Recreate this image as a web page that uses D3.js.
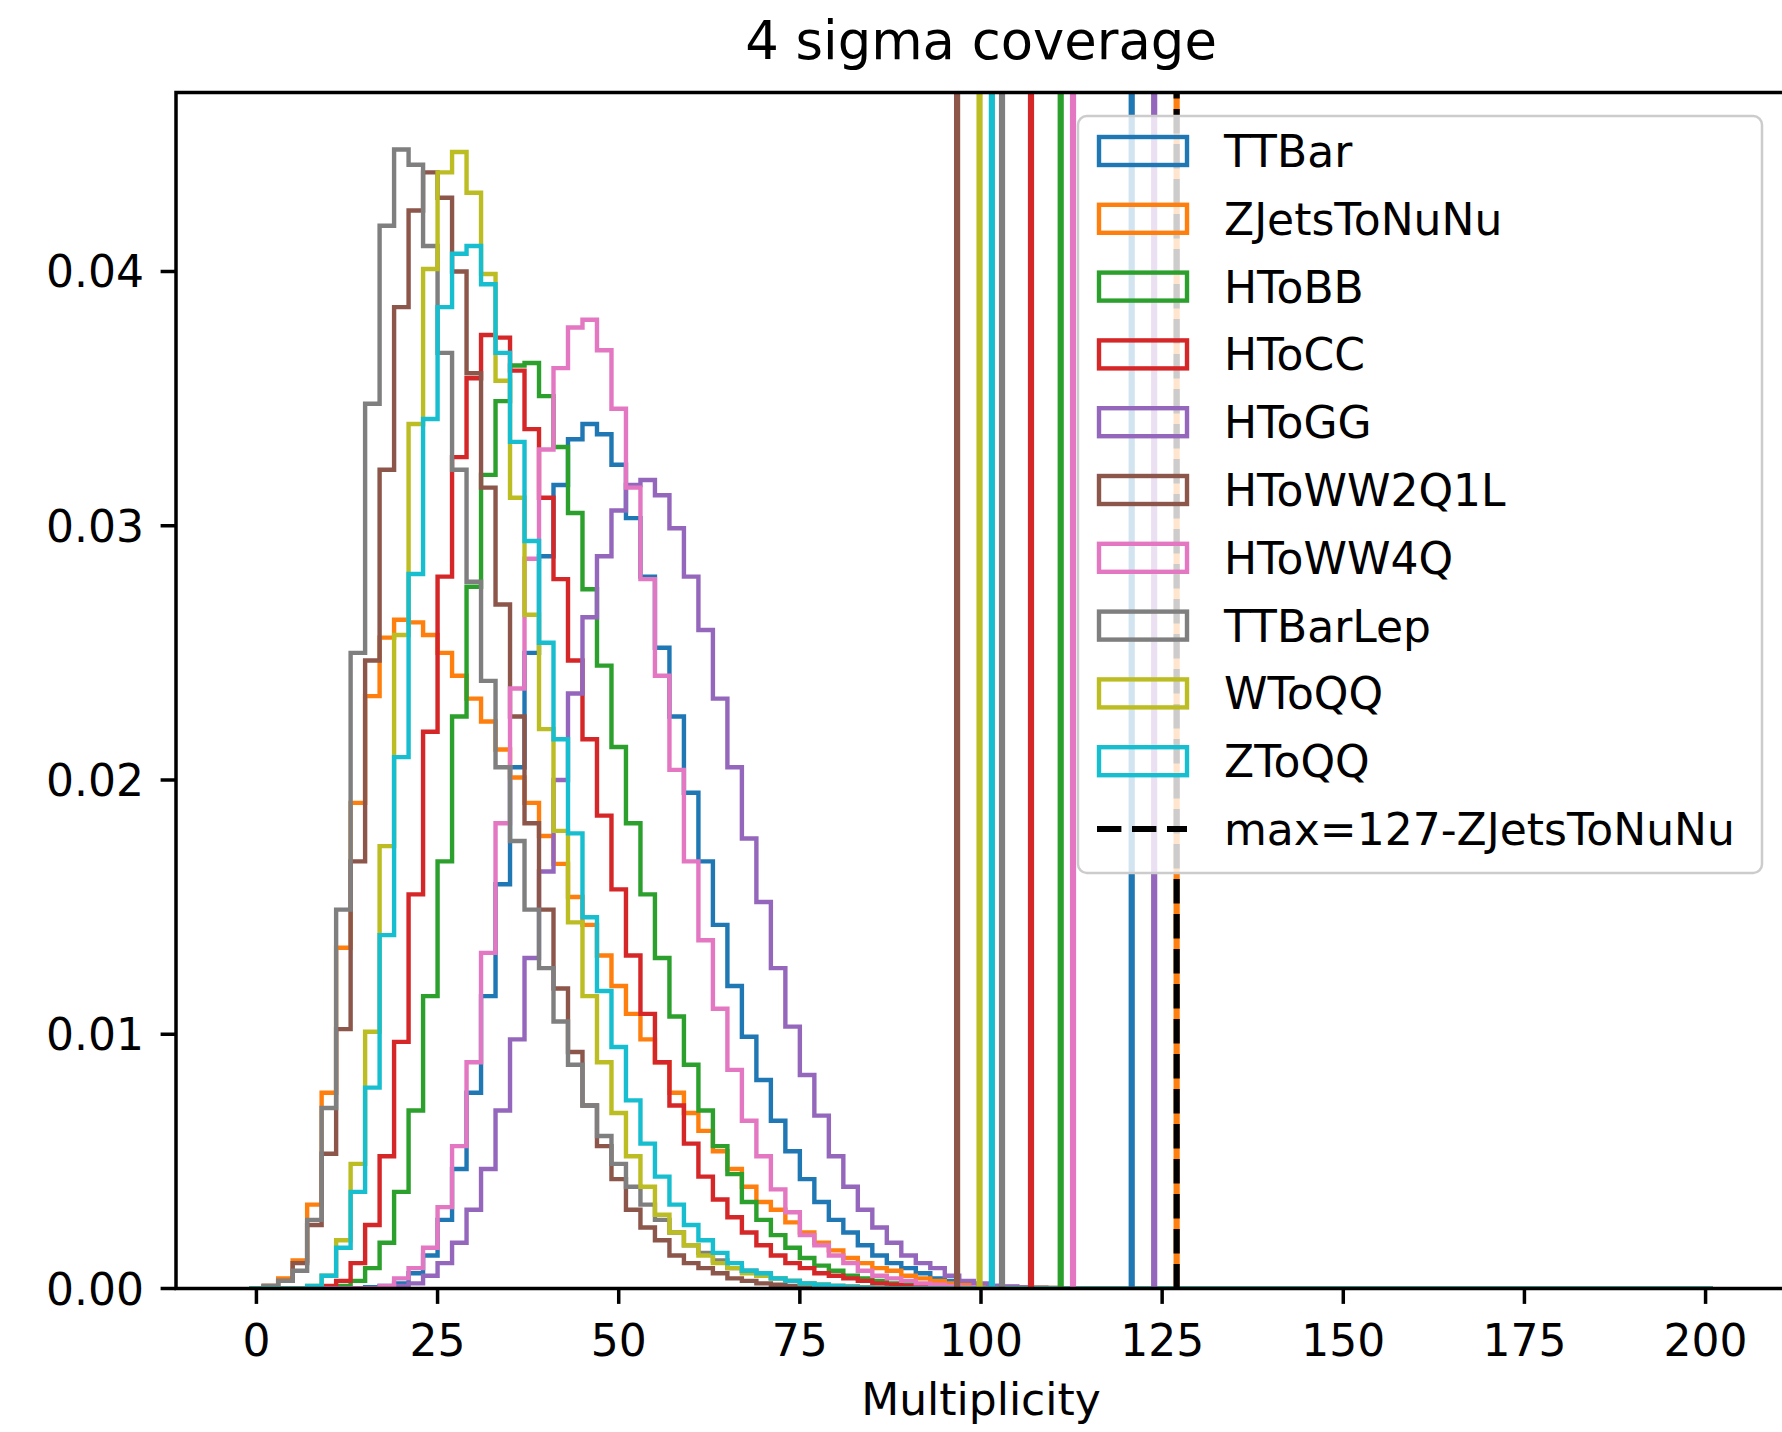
<!DOCTYPE html>
<html>
<head>
<meta charset="utf-8">
<script src="https://cdn.jsdelivr.net/npm/d3@7"></script>
<style>
  body { margin: 0; background: #fff; }
  svg { display: block; font-family: "DejaVu Sans", sans-serif; }
</style>
</head>
<body>
<div id="chart"></div>
<script>

const samples = ['TTBar', 'ZJetsToNuNu', 'HToBB', 'HToCC', 'HToGG', 'HToWW2Q1L', 'HToWW4Q', 'TTBarLep', 'WToQQ', 'ZToQQ'];
const colors = ['#1f77b4', '#ff7f0e', '#2ca02c', '#d62728', '#9467bd', '#8c564b', '#e377c2', '#7f7f7f', '#bcbd22', '#17becf'];

// normalised counts, bins of width 2 starting at -1 (bin k is centred on 2k)
const ttbar = [0, 0, 0, 0, 0, 0, 0, 0, 0.00005, 0.0001,
    0.0002, 0.0006, 0.0013, 0.0027, 0.0047, 0.0077, 0.0115, 0.0159, 0.0205, 0.0250,
    0.0288, 0.0316, 0.0334, 0.0340, 0.0336, 0.0324, 0.0303, 0.0280, 0.0252, 0.0225,
    0.0195, 0.0168, 0.0143, 0.0119, 0.0099, 0.0082, 0.0066, 0.0054, 0.0043, 0.0034,
    0.0027, 0.0022, 0.0017, 0.0013, 0.0010, 0.0008, 0.0006, 0.0004, 0.0003, 0.0002,
    0.00015, 0.0001, 0.00007, 0.00005, 0.00003, 0.00002];
const zjets = [0, 0.0001, 0.0004, 0.0011, 0.0033, 0.0077, 0.0134, 0.0191, 0.0233, 0.0256,
    0.0263, 0.0262, 0.0257, 0.0250, 0.0241, 0.0232, 0.0223, 0.0212, 0.0201, 0.0191,
    0.0178, 0.0167, 0.0154, 0.0143, 0.0131, 0.0119, 0.0108, 0.0098, 0.0089, 0.0077,
    0.0069, 0.0062, 0.0054, 0.0047, 0.0040, 0.0034, 0.0031, 0.0026, 0.0022, 0.0018,
    0.0015, 0.0012, 0.0010, 0.0008, 0.0007, 0.0005, 0.0004, 0.0003, 0.0002, 0.00015,
    0.0001, 0.00008, 0.00006, 0.00004, 0.00003, 0.00002, 0.00001];
const htobb = [0, 0, 0, 0, 0, 0, 0.0001, 0.0003, 0.0008, 0.0018,
    0.0038, 0.0070, 0.0115, 0.0168, 0.0225, 0.0276, 0.0320, 0.0349, 0.0363, 0.0364,
    0.0351, 0.0331, 0.0305, 0.0275, 0.0245, 0.0213, 0.0183, 0.0155, 0.0130, 0.0107,
    0.0088, 0.0070, 0.0056, 0.0045, 0.0034, 0.0027, 0.0021, 0.0016, 0.0012, 0.0009,
    0.0007, 0.0005, 0.0004, 0.0003, 0.0002, 0.00015, 0.0001, 0.00007, 0.00005, 0.00003];
const htocc = [0, 0, 0, 0, 0, 0.0001, 0.0003, 0.0010, 0.0025, 0.0052,
    0.0097, 0.0155, 0.0219, 0.0280, 0.0327, 0.0358, 0.0375, 0.0374, 0.0361, 0.0338,
    0.0311, 0.0279, 0.0247, 0.0216, 0.0186, 0.0157, 0.0131, 0.0108, 0.0089, 0.0072,
    0.0057, 0.0044, 0.0035, 0.0028, 0.0022, 0.0017, 0.0013, 0.0010, 0.0008, 0.0006,
    0.0005, 0.0004, 0.0003, 0.0002, 0.00015, 0.0001, 0.00007, 0.00004];
const htogg = [0, 0, 0, 0, 0, 0, 0, 0, 0, 0,
    0.0001, 0.0002, 0.0005, 0.0010, 0.0018, 0.0031, 0.0047, 0.0070, 0.0098, 0.0130,
    0.0164, 0.0200, 0.0234, 0.0264, 0.0288, 0.0306, 0.0316, 0.0318, 0.0312, 0.0299,
    0.0280, 0.0259, 0.0232, 0.0205, 0.0177, 0.0152, 0.0126, 0.0103, 0.0084, 0.0068,
    0.0052, 0.0040, 0.0031, 0.0024, 0.0018, 0.0013, 0.0010, 0.0008, 0.0005, 0.0003,
    0.0002, 0.0001, 0.00007, 0.00004, 0.00002];
const htoww2q1l = [0, 0.0001, 0.0003, 0.0010, 0.0025, 0.0053, 0.0102, 0.0168, 0.0247, 0.0322,
    0.0386, 0.0424, 0.0439, 0.0429, 0.0400, 0.0360, 0.0315, 0.0269, 0.0225, 0.0183,
    0.0149, 0.0118, 0.0093, 0.0072, 0.0056, 0.0043, 0.0031, 0.0024, 0.0019, 0.0013,
    0.0010, 0.0008, 0.0006, 0.0004, 0.0003, 0.0002, 0.00015, 0.0001, 0.00007, 0.00004];
const htoww4q = [0, 0, 0, 0, 0, 0, 0, 0, 0, 0.0001,
    0.0004, 0.0008, 0.0016, 0.0032, 0.0056, 0.0089, 0.0132, 0.0183, 0.0236, 0.0287,
    0.0330, 0.0362, 0.0378, 0.0381, 0.0369, 0.0346, 0.0315, 0.0279, 0.0241, 0.0204,
    0.0168, 0.0137, 0.0110, 0.0086, 0.0066, 0.0052, 0.0039, 0.0030, 0.0021, 0.0017,
    0.0013, 0.0010, 0.0007, 0.0005, 0.0004, 0.0003, 0.0002, 0.00015, 0.0001, 0.00005];
const ttbarlep = [0, 0.0001, 0.0003, 0.0007, 0.0027, 0.0071, 0.0149, 0.0250, 0.0348, 0.0418,
    0.0448, 0.0442, 0.0410, 0.0368, 0.0322, 0.0278, 0.0239, 0.0205, 0.0176, 0.0149,
    0.0126, 0.0105, 0.0088, 0.0072, 0.0060, 0.0049, 0.0040, 0.0033, 0.0027, 0.0022,
    0.0017, 0.0014, 0.0011, 0.0008, 0.0007, 0.0005, 0.0004, 0.0003, 0.0002, 0.00015,
    0.0001, 0.00008, 0.00005, 0.00003];
const wtoqq = [0, 0, 0, 0, 0.0001, 0.0005, 0.0019, 0.0049, 0.0101, 0.0174,
    0.0257, 0.0340, 0.0401, 0.0439, 0.0447, 0.0431, 0.0399, 0.0357, 0.0311, 0.0265,
    0.0220, 0.0180, 0.0144, 0.0115, 0.0089, 0.0069, 0.0052, 0.0040, 0.0029, 0.0022,
    0.0017, 0.0013, 0.0010, 0.0008, 0.0006, 0.0005, 0.0004, 0.0003, 0.0002, 0.00015,
    0.0001, 0.00006, 0.00003];
const ztoqq = [0, 0, 0, 0, 0.0001, 0.0005, 0.0016, 0.0038, 0.0079, 0.0139,
    0.0209, 0.0281, 0.0342, 0.0386, 0.0407, 0.0410, 0.0395, 0.0368, 0.0333, 0.0294,
    0.0254, 0.0216, 0.0179, 0.0146, 0.0117, 0.0095, 0.0074, 0.0057, 0.0044, 0.0033,
    0.0025, 0.0019, 0.0014, 0.0010, 0.0007, 0.0006, 0.0004, 0.0003, 0.0002, 0.00015,
    0.0001, 0.00006, 0.00003];

// 4 sigma coverage per sample, same order as samples
const coverage = [120.8, 127.0, 111.0, 106.9, 123.9, 96.7, 112.7, 102.9, 99.8, 101.5];
const maxCoverage = 127;
const maxSample = 'ZJetsToNuNu';

const xTicks = [0, 25, 50, 75, 100, 125, 150, 175, 200];
const yTicks = [0.00, 0.01, 0.02, 0.03, 0.04];

const binStart = -1;
const binWidth = 2;
const binCount = 101;

const series = [ttbar, zjets, htobb, htocc, htogg, htoww2q1l, htoww4q, ttbarlep, wtoqq, ztoqq];

function stepPoints(values) {
    const pts = [[binStart, 0]];
    for (let i = 0; i < binCount; i++) {
        const v = values[i] || 0;
        const x0 = binStart + i * binWidth;
        pts.push([x0, v], [x0 + binWidth, v]);
    }
    pts.push([binStart + binCount * binWidth, 0]);
    return pts;
}

function drawChart() {
    const width = 1782, height = 1432;
    const plot = { left: 176, right: 1786, top: 92.5, bottom: 1288.5 };

    const svg = d3.select('#chart')
        .append('svg')
        .attr('width', width)
        .attr('height', height);

    const binEnd = binStart + binCount * binWidth;
    const span = binEnd - binStart;
    const x = d3.scaleLinear()
        .domain([binStart - 0.05 * span, binEnd + 0.05 * span])
        .range([plot.left, plot.right]);

    const yMax = d3.max(series, s => d3.max(s)) * 1.05;
    const y = d3.scaleLinear()
        .domain([0, yMax])
        .range([plot.bottom, plot.top]);

    svg.append('defs').append('clipPath')
        .attr('id', 'plot-clip')
        .append('rect')
        .attr('x', plot.left)
        .attr('y', plot.top)
        .attr('width', plot.right - plot.left)
        .attr('height', plot.bottom - plot.top);

    const area = svg.append('g').attr('clip-path', 'url(#plot-clip)');

    const line = d3.line().x(d => x(d[0])).y(d => y(d[1]));

    area.selectAll('path.hist')
        .data(series)
        .enter()
        .append('path')
        .attr('class', 'hist')
        .attr('d', d => line(stepPoints(d)))
        .attr('fill', 'none')
        .attr('stroke', (d, i) => colors[i])
        .attr('stroke-width', 4.4)
        .attr('stroke-linejoin', 'miter');

    area.selectAll('line.cover')
        .data(coverage)
        .enter()
        .append('line')
        .attr('class', 'cover')
        .attr('x1', d => x(d))
        .attr('x2', d => x(d))
        .attr('y1', plot.bottom)
        .attr('y2', plot.top)
        .attr('stroke', (d, i) => colors[i])
        .attr('stroke-width', 6.2);

    area.append('line')
        .attr('x1', x(maxCoverage))
        .attr('x2', x(maxCoverage))
        .attr('y1', plot.bottom)
        .attr('y2', plot.top)
        .attr('stroke', '#000')
        .attr('stroke-width', 6.2)
        .attr('stroke-dasharray', '24.4,10.6');

    // axes
    const axisColor = '#000';
    const spineWidth = 3.5;
    const tickLen = 15.4;

    svg.selectAll('line.xtick')
        .data(xTicks)
        .enter()
        .append('line')
        .attr('x1', d => x(d))
        .attr('x2', d => x(d))
        .attr('y1', plot.bottom)
        .attr('y2', plot.bottom + tickLen)
        .attr('stroke', axisColor)
        .attr('stroke-width', spineWidth);

    svg.selectAll('text.xtick')
        .data(xTicks)
        .enter()
        .append('text')
        .attr('x', d => x(d))
        .attr('y', plot.bottom + 67)
        .attr('text-anchor', 'middle')
        .attr('font-size', 44)
        .text(d => d);

    svg.selectAll('line.ytick')
        .data(yTicks)
        .enter()
        .append('line')
        .attr('x1', plot.left - tickLen)
        .attr('x2', plot.left)
        .attr('y1', d => y(d))
        .attr('y2', d => y(d))
        .attr('stroke', axisColor)
        .attr('stroke-width', spineWidth);

    svg.selectAll('text.ytick')
        .data(yTicks)
        .enter()
        .append('text')
        .attr('x', plot.left - 32)
        .attr('y', d => y(d) + 16)
        .attr('text-anchor', 'end')
        .attr('font-size', 44)
        .text(d => d3.format('.2f')(d));

    svg.append('rect')
        .attr('x', plot.left)
        .attr('y', plot.top)
        .attr('width', plot.right - plot.left)
        .attr('height', plot.bottom - plot.top)
        .attr('fill', 'none')
        .attr('stroke', axisColor)
        .attr('stroke-width', spineWidth);

    svg.append('text')
        .attr('x', (plot.left + plot.right) / 2)
        .attr('y', 59)
        .attr('text-anchor', 'middle')
        .attr('font-size', 52.8)
        .text('4 sigma coverage');

    svg.append('text')
        .attr('x', (plot.left + plot.right) / 2)
        .attr('y', 1415)
        .attr('text-anchor', 'middle')
        .attr('font-size', 44)
        .text('Multiplicity');

    // legend
    const legend = svg.append('g');
    legend.append('rect')
        .attr('x', 1078)
        .attr('y', 116)
        .attr('width', 684)
        .attr('height', 757)
        .attr('rx', 8.8)
        .attr('fill', '#fff')
        .attr('fill-opacity', 0.8)
        .attr('stroke', '#cccccc')
        .attr('stroke-width', 2.5);

    const rowY = i => 151 + i * 67.8;

    const rows = legend.selectAll('g.row')
        .data(samples)
        .enter()
        .append('g');

    rows.append('rect')
        .attr('x', 1099)
        .attr('y', (d, i) => rowY(i) - 14)
        .attr('width', 88)
        .attr('height', 28)
        .attr('fill', 'none')
        .attr('stroke', (d, i) => colors[i])
        .attr('stroke-width', 4.4);

    rows.append('text')
        .attr('x', 1224)
        .attr('y', (d, i) => rowY(i) + 16)
        .attr('font-size', 44)
        .text(d => d);

    const last = rowY(samples.length);
    legend.append('line')
        .attr('x1', 1097)
        .attr('x2', 1187)
        .attr('y1', last)
        .attr('y2', last)
        .attr('stroke', '#000')
        .attr('stroke-width', 6.2)
        .attr('stroke-dasharray', '24.4,10.6');

    legend.append('text')
        .attr('x', 1224)
        .attr('y', last + 16)
        .attr('font-size', 44)
        .text('max=' + maxCoverage + '-' + maxSample);
}

drawChart();
</script>
</body>
</html>
